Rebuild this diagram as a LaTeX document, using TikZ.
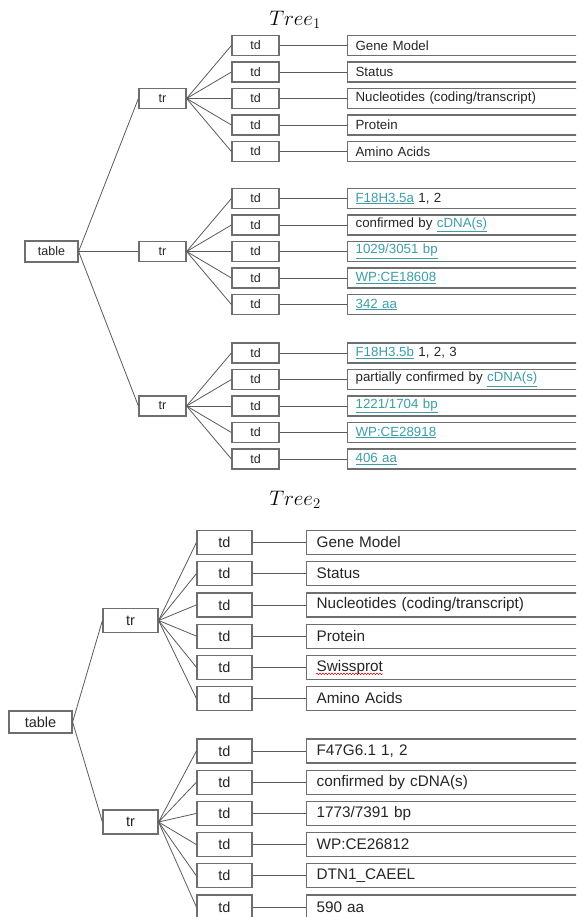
\RequirePackage{fix-cm}
\documentclass[tikz,border=0pt]{standalone}
\usepackage{fontspec}
\setmainfont{Liberation Sans}
\usetikzlibrary{decorations.pathmorphing}
\definecolor{boxgray}{HTML}{6E6E6E}
\definecolor{linegray}{HTML}{5A5A5A}
\definecolor{linkc}{HTML}{3C9FA5}
\newcommand\lk[1]{\textcolor{linkc}{\underline{#1}}}
\tikzset{
  box/.style={draw=boxgray, line width=1.2pt, fill=white, inner sep=0pt, text=black!85},
  tdA/.style={box, minimum width=47pt, minimum height=20pt, font=\fontsize{12.5}{14}\selectfont},
  valA/.style={box, anchor=west, minimum height=20pt, text width=300pt, align=left, inner xsep=8pt, font=\fontsize{13.3}{15}\selectfont},
  tdB/.style={box, minimum width=55pt, minimum height=24pt, font=\fontsize{14.5}{16}\selectfont},
  valB/.style={box, anchor=west, minimum height=24pt, text width=320pt, align=left, inner xsep=10pt, font=\fontsize{15.3}{17}\selectfont},
  conn/.style={draw=linegray, line width=0.8pt},
  ttl/.style={font=\fontsize{21}{25}\selectfont},
}
\begin{document}
\begin{tikzpicture}[x=1pt,y=-1pt]
\useasboundingbox (0,0) rectangle (576,917);
\begin{scope}
\clip (0,0) rectangle (576,917);
% ---------- Tree 1 ----------
\node[ttl] (title1) at (295,20) {$Tree_1$};
\node[tdA, minimum width=53pt, minimum height=21pt] (t1) at (51.5,251.5) {table};
\node[tdA] (t1r1) at (162.5,98.5) {tr};
\node[tdA] (t1r2) at (162.5,251.5) {tr};
\node[tdA] (t1r3) at (162.5,406) {tr};
\draw[conn] (t1.east) -- (t1r1.west);
\draw[conn] (t1.east) -- (t1r2.west);
\draw[conn] (t1.east) -- (t1r3.west);
\foreach \y/\t [count=\i] in {45.5/{Gene Model},72/{Status},98.5/{Nucleotides (coding/transcript)},125/{Protein},151.5/{Amino Acids}}{
  \node[tdA] (a1d\i) at (255.5,\y) {td};
  \node[valA] (a1v\i) at (347,\y) {\t};
  \draw[conn] (t1r1.east) -- (a1d\i.west);
  \draw[conn] (a1d\i.east) -- (a1v\i.west);
}
\foreach \y/\t [count=\i] in {198.5/{\lk{F18H3.5a} 1, 2},225/{confirmed by \lk{cDNA(s)}},251.5/{\lk{1029/3051 bp}},278/{\lk{WP:CE18608}},304.5/{\lk{342 aa}}}{
  \node[tdA] (a2d\i) at (255.5,\y) {td};
  \node[valA] (a2v\i) at (347,\y) {\t};
  \draw[conn] (t1r2.east) -- (a2d\i.west);
  \draw[conn] (a2d\i.east) -- (a2v\i.west);
}
\foreach \y/\t [count=\i] in {353/{\lk{F18H3.5b} 1, 2, 3},379.5/{partially confirmed by \lk{cDNA(s)}},406/{\lk{1221/1704 bp}},432.5/{\lk{WP:CE28918}},459/{\lk{406 aa}}}{
  \node[tdA] (a3d\i) at (255.5,\y) {td};
  \node[valA] (a3v\i) at (347,\y) {\t};
  \draw[conn] (t1r3.east) -- (a3d\i.west);
  \draw[conn] (a3d\i.east) -- (a3v\i.west);
}
% ---------- Tree 2 ----------
\node[ttl] (title2) at (295,500) {$Tree_2$};
\node[tdB, minimum width=63pt, minimum height=22pt] (t2) at (40.5,722) {table};
\node[tdB] (t2r1) at (130.5,620.5) {tr};
\node[tdB] (t2r2) at (130.5,822) {tr};
\draw[conn] (t2.east) -- (t2r1.west);
\draw[conn] (t2.east) -- (t2r2.west);
\foreach \y/\t [count=\i] in {542.5/{Gene Model},573.7/{Status},604.9/{Nucleotides (coding/transcript)},636.1/{Protein},667.3/{Swissprot},698.5/{Amino Acids}}{
  \node[tdB] (b1d\i) at (224.5,\y) {td};
  \node[valB] (b1v\i) at (306,\y) {\t};
  \draw[conn] (t2r1.east) -- (b1d\i.west);
  \draw[conn] (b1d\i.east) -- (b1v\i.west);
}
\draw[red!80!black, line width=0.5pt, decorate, decoration={snake, amplitude=0.8pt, segment length=3pt}]
  ([xshift=10pt,yshift=-6.5pt]b1v5.west) -- ([xshift=77pt,yshift=-6.5pt]b1v5.west);
\foreach \y/\t [count=\i] in {751/{F47G6.1 1, 2},782.2/{confirmed by cDNA(s)},813.4/{1773/7391 bp},844.6/{WP:CE26812},875.8/{DTN1\_CAEEL},907/{590 aa}}{
  \node[tdB] (b2d\i) at (224.5,\y) {td};
  \node[valB] (b2v\i) at (306,\y) {\t};
  \draw[conn] (t2r2.east) -- (b2d\i.west);
  \draw[conn] (b2d\i.east) -- (b2v\i.west);
}
\end{scope}
\end{tikzpicture}
\end{document}
